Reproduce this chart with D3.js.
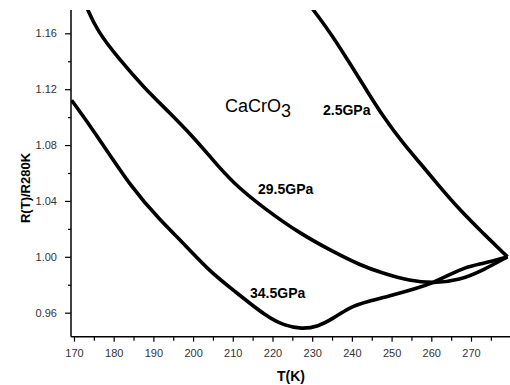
<!DOCTYPE html>
<html>
<head>
<meta charset="utf-8">
<script src="https://cdn.jsdelivr.net/npm/d3@7"></script>
<style>
  body { margin: 0; background: #fff; }
  text { font-family: Arial, "Liberation Sans", sans-serif; }
</style>
</head>
<body>
<script>
//temperature (K) and R(T)/R280K
var temp345 = [169.4, 174.9, 184.9, 191.7, 198.4, 204.3, 210.1, 218.5, 223.0, 227.3, 231.5, 235.3, 239.5, 243.7, 250.4, 256.3, 260.5, 264.5, 268.5, 273.1, 279.2];
var res345  = [1.1121, 1.0907, 1.0477, 1.0263, 1.0072, 0.9893, 0.9762, 0.9571, 0.9508, 0.9482, 0.9500, 0.9559, 0.9640, 0.9678, 0.9726, 0.9774, 0.9815, 0.9870, 0.9925, 0.9953, 1.0];

var temp295 = [173.0, 175.7, 181.6, 187.5, 194.2, 200.0, 204.3, 210.1, 218.5, 226.9, 235.3, 242.0, 247.9, 254.6, 260.5, 267.2, 273.1, 279.2];
var res295  = [1.180, 1.1622, 1.1407, 1.1216, 1.1028, 1.0859, 1.0716, 1.0525, 1.0334, 1.0167, 1.0036, 0.9941, 0.9881, 0.9828, 0.9810, 0.9833, 0.9905, 1.0];

var temp25 = [229.4, 230.7, 235.3, 239.5, 243.7, 247.9, 252.9, 258.0, 261.4, 267.2, 273.1, 279.2];
var res25  = [1.180, 1.1753, 1.1574, 1.1384, 1.1193, 1.1002, 1.0811, 1.0644, 1.0525, 1.0334, 1.0167, 1.0];

var xTicks = [170, 180, 190, 200, 210, 220, 230, 240, 250, 260, 270];
var yTicks = [0.96, 1.00, 1.04, 1.08, 1.12, 1.16];

var curveLabels = ["2.5GPa", "29.5GPa", "34.5GPa"];
var labelPos = [[323, 115], [258, 194], [250, 298]];

window.onload = drawChart();

function drawChart() {

  var width = 510,
      height = 385;

  var left = 71, right = 510.7, top = 10, bottom = 336.7;

  var svg = d3.select("body")
        .append("svg")
        .attr("width", width)
        .attr("height", height);

  var x = d3.scaleLinear()
        .domain([169.25, 280])
        .range([left, right]);

  var y = d3.scaleLinear()
        .domain([0.9428, 1.1767])
        .range([bottom, top]);

  //clip so the curves stop at the frame
  svg.append("clipPath")
        .attr("id", "plotclip")
        .append("rect")
        .attr("x", left)
        .attr("y", top)
        .attr("width", width - left)
        .attr("height", bottom - top);

  //minor ticks first, then major ticks with labels
  var xMinor = d3.range(175, 280, 10);
  var yMinor = [0.98, 1.02, 1.06, 1.10, 1.14];

  var xAxis = svg.append("g")
        .attr("transform", "translate(0," + bottom + ")")
        .call(d3.axisBottom(x).tickValues(xTicks).tickSize(5).tickFormat(d3.format("d")));
  svg.append("g")
        .attr("transform", "translate(0," + bottom + ")")
        .call(d3.axisBottom(x).tickValues(xMinor).tickSize(4).tickFormat(""))
        .select(".domain").remove();

  var yAxis = svg.append("g")
        .attr("transform", "translate(" + left + ",0)")
        .call(d3.axisLeft(y).tickValues(yTicks).tickSize(6).tickFormat(d3.format(".2f")));
  svg.append("g")
        .attr("transform", "translate(" + left + ",0)")
        .call(d3.axisLeft(y).tickValues(yMinor).tickSize(3).tickFormat(""))
        .select(".domain").remove();

  //axis look
  svg.selectAll(".domain")
        .attr("stroke", "#000")
        .attr("stroke-width", 1.5);
  xAxis.select(".domain").attr("d", "M" + left + ",0H" + width);
  yAxis.select(".domain").attr("d", "M0," + top + "V" + bottom);
  svg.selectAll(".tick line")
        .attr("stroke", "#000")
        .attr("stroke-width", 1.2);
  svg.selectAll(".tick text")
        .attr("font-size", 11)
        .attr("font-family", "Arial, 'Liberation Sans', sans-serif")
        .attr("fill", "#333");
  xAxis.selectAll(".tick text").attr("dy", "1.1em");
  yAxis.selectAll(".tick text").attr("x", -14);

  //curves
  var line = d3.line()
        .x(function(d) { return x(d[0]); })
        .y(function(d) { return y(d[1]); })
        .curve(d3.curveBasis);

  var series = [d3.zip(temp25, res25), d3.zip(temp295, res295), d3.zip(temp345, res345)];

  svg.append("g")
        .attr("clip-path", "url(#plotclip)")
        .selectAll("path")
        .data(series)
        .enter()
        .append("path")
        .attr("d", line)
        .attr("fill", "none")
        .attr("stroke", "#000")
        .attr("stroke-width", 3.6)
        .attr("stroke-linejoin", "round");

  //curve labels
  svg.selectAll(".plabel")
        .data(curveLabels)
        .enter()
        .append("text")
        .attr("class", "plabel")
        .attr("x", function(d, i) { return labelPos[i][0]; })
        .attr("y", function(d, i) { return labelPos[i][1]; })
        .attr("font-size", 14)
        .attr("font-weight", "bold")
        .text(function(d) { return d; });

  //compound name
  var name = svg.append("text")
        .attr("x", 225)
        .attr("y", 112)
        .attr("font-size", 18);
  name.append("tspan").text("CaCrO");
  name.append("tspan").attr("dy", 5).attr("font-size", 18).text("3");

  //axis titles
  svg.append("text")
        .attr("x", 291)
        .attr("y", 381)
        .attr("text-anchor", "middle")
        .attr("font-size", 14)
        .attr("font-weight", "bold")
        .text("T(K)");

  svg.append("text")
        .attr("transform", "translate(30,188) rotate(-90)")
        .attr("text-anchor", "middle")
        .attr("font-size", 13)
        .attr("font-weight", "bold")
        .text("R(T)/R280K");
}
</script>
</body>
</html>
